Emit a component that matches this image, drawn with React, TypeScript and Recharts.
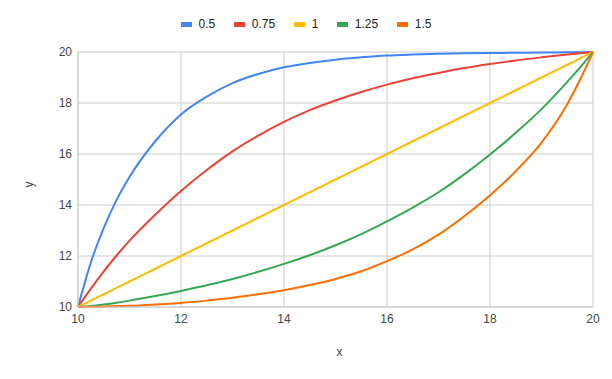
import { LineChart, Line, XAxis, YAxis, CartesianGrid, Legend, Label } from 'recharts';

const xs = [10, 10.25, 10.5, 10.75, 11, 11.5, 12, 12.5, 13, 13.5, 14, 14.5, 15, 15.5, 16, 16.5, 17, 17.5, 18, 18.5, 19, 19.5, 19.75, 20];

const y050 = [10, 11.75, 13.1, 14.2, 15.1, 16.5, 17.55, 18.25, 18.78, 19.14, 19.4, 19.57, 19.7, 19.79, 19.86, 19.9, 19.93, 19.95, 19.96, 19.97, 19.98, 19.99, 19.995, 20];
const y075 = [10, 10.72, 11.4, 12.02, 12.6, 13.62, 14.55, 15.37, 16.1, 16.72, 17.26, 17.72, 18.1, 18.43, 18.72, 18.97, 19.18, 19.37, 19.53, 19.67, 19.79, 19.9, 19.95, 20];
const y100 = [10, 10.25, 10.5, 10.75, 11, 11.5, 12, 12.5, 13, 13.5, 14, 14.5, 15, 15.5, 16, 16.5, 17, 17.5, 18, 18.5, 19, 19.5, 19.75, 20];
const y125 = [10, 10.04, 10.1, 10.17, 10.25, 10.43, 10.63, 10.85, 11.1, 11.38, 11.69, 12.03, 12.42, 12.86, 13.36, 13.9, 14.5, 15.2, 15.98, 16.83, 17.76, 18.83, 19.4, 20];
const y150 = [10, 10.005, 10.02, 10.035, 10.05, 10.1, 10.16, 10.25, 10.36, 10.5, 10.66, 10.86, 11.1, 11.4, 11.8, 12.26, 12.84, 13.56, 14.38, 15.33, 16.45, 17.95, 18.92, 20];

const seriesNames = ['0.5', '0.75', '1', '1.25', '1.5'];
const seriesColors = ['#4285F4', '#EA4335', '#FBBC04', '#34A853', '#FF6D01'];
const seriesValues = [y050, y075, y100, y125, y150];

const xTicks = [10, 12, 14, 16, 18, 20];
const yTicks = [10, 12, 14, 16, 18, 20];

const FONT = '"Liberation Sans", Arial, sans-serif';

function LegendRow() {
  return (
    <div style={{ display: 'flex', justifyContent: 'center', alignItems: 'center', gap: 18.5, height: 18, fontFamily: FONT, fontSize: 12, color: '#222' }}>
      {seriesNames.map((n, i) => (
        <div key={n} style={{ display: 'flex', alignItems: 'center', gap: 7 }}>
          <span style={{ display: 'inline-block', width: 11, height: 5, background: seriesColors[i] }} />
          <span>{n}</span>
        </div>
      ))}
    </div>
  );
}

export default function App() {
  const data = xs.map((x, i) => {
    const row: Record<string, number> = { x };
    seriesNames.forEach((n, k) => {
      row['s' + k] = seriesValues[k][i];
    });
    return row;
  });

  const tickStyle = { fill: '#444', fontSize: 12, fontFamily: FONT };

  return (
    <div style={{ width: 612, height: 379, background: '#fff' }}>
      <style>{'body{margin:0}'}</style>
      <LineChart width={612} height={379} data={data} margin={{ top: 34, right: 19, bottom: 0, left: 0 }}>
        <CartesianGrid stroke="#ccc" strokeWidth={1} />
        <XAxis
          dataKey="x"
          type="number"
          domain={[10, 20]}
          ticks={xTicks}
          height={72}
          tickSize={0}
          tickMargin={7}
          axisLine={{ stroke: '#ccc' }}
          tick={tickStyle}
        >
          <Label
            content={({ viewBox }: any) => (
              <text x={viewBox.x + viewBox.width / 2 + 4} y={viewBox.y + 45} dy="0.35em" textAnchor="middle" fill="#444" fontSize={12} fontFamily={FONT}>
                x
              </text>
            )}
          />
        </XAxis>
        <YAxis
          type="number"
          domain={[10, 20]}
          ticks={yTicks}
          width={78}
          tickSize={0}
          tickMargin={6}
          axisLine={{ stroke: '#ccc' }}
          tick={tickStyle}
        >
          <Label
            content={({ viewBox }: any) => {
              const cx = viewBox.x + 29;
              const cy = viewBox.y + viewBox.height / 2 + 5;
              return (
                <text x={cx} y={cy} dy="0.35em" textAnchor="middle" fill="#444" fontSize={12} fontFamily={FONT} transform={`rotate(-90, ${cx}, ${cy})`}>
                  y
                </text>
              );
            }}
          />
        </YAxis>
        <Legend verticalAlign="top" wrapperStyle={{ top: 15, left: 0, width: 612 }} content={() => <LegendRow />} />
        {seriesNames.map((n, k) => (
          <Line
            key={n}
            name={n}
            dataKey={'s' + k}
            type="monotone"
            stroke={seriesColors[k]}
            strokeWidth={2}
            dot={false}
            activeDot={false}
            isAnimationActive={false}
          />
        ))}
      </LineChart>
    </div>
  );
}
